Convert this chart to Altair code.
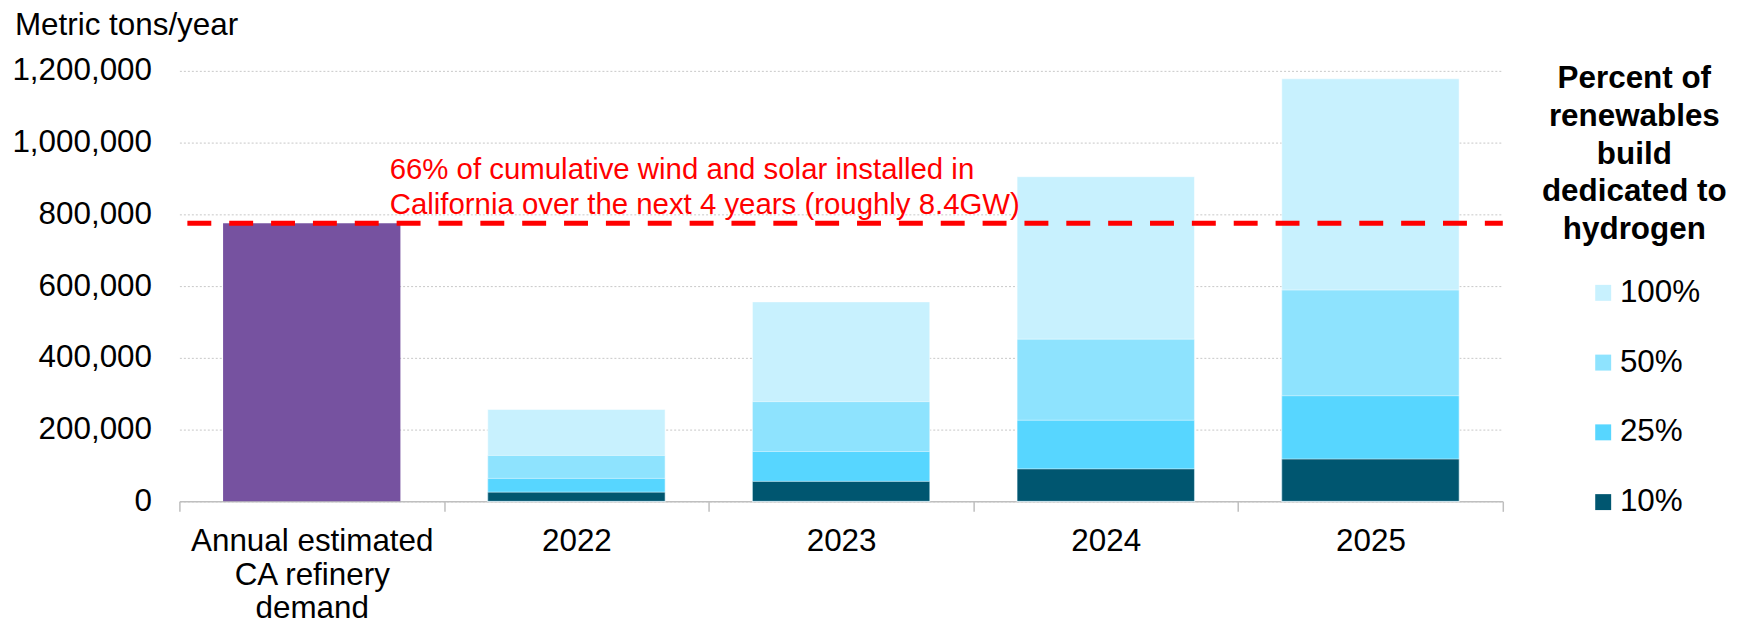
import altair as alt
import pandas as pd

# ---- data ----
years = ["2022", "2023", "2024", "2025"]
levels = ["100%", "50%", "25%", "10%"]
values_100 = [256000, 556000, 905000, 1178000]
values_50 = [128000, 278000, 452000, 589000]
values_25 = [64000, 139000, 226000, 294500]
values_10 = [25600, 55600, 90500, 117800]
level_colors = ["#C8F1FE", "#8EE3FE", "#57D6FF", "#005670"]

demand_label = "Annual estimated CA refinery demand"
demand_label_lines = ["Annual estimated", "CA refinery", "demand"]
demand_value = [775000]
target_value = [775000]

annotation_lines = ["66% of cumulative wind and solar installed in",
                    "California over the next 4 years (roughly 8.4GW)"]
legend_title_lines = ["Percent of", "renewables", "build", "dedicated to", "hydrogen"]
y_title = "Metric tons/year"
y_ticks = [0, 200000, 400000, 600000, 800000, 1000000, 1200000]

FONT = "Liberation Sans"
FS = 31.5
W, H = 1328, 432

# ---- tables ----
rows = []
series = {"100%": values_100, "50%": values_50, "25%": values_25, "10%": values_10}
for lvl in levels:  # biggest first so smaller bars are drawn on top
    for y, v in zip(years, series[lvl]):
        rows.append({"category": y, "level": lvl, "value": v})
bars_df = pd.DataFrame(rows)
demand_df = pd.DataFrame({"category": [demand_label], "value": demand_value})
rule_df = pd.DataFrame({"value": target_value})

x_domain = [demand_label] + years
label_expr = ("datum.value == '" + demand_label + "' ? ["
              + ", ".join("'" + s + "'" for s in demand_label_lines) + "] : datum.label")

x_enc = alt.X(
    "category:N",
    sort=x_domain,
    scale=alt.Scale(domain=x_domain, paddingInner=0, paddingOuter=0),
    axis=alt.Axis(
        title=None, labelAngle=0, labelFont=FONT, labelFontSize=FS, labelColor="black",
        labelLineHeight=34, labelBaseline="top", labelPadding=14, labelExpr=label_expr,
        tickBand="extent", tickSize=10, tickColor="#BFBFBF", tickWidth=1.5,
        domainColor="#BFBFBF", domainWidth=1.5, grid=False, labelLimit=400,
    ),
)
y_scale = alt.Scale(domain=[0, 1200000], nice=False)
y_enc = alt.Y(
    "value:Q", scale=y_scale, stack=None,
    axis=alt.Axis(
        title=None, values=y_ticks, format=",d", labelFont=FONT, labelFontSize=FS,
        labelColor="black", labelPadding=28, ticks=False, domain=False,
        grid=True, gridColor="#C8C8C8", gridDash=[2, 2], gridWidth=1,
    ),
)

BAR_W = alt.RelativeBandSize(0.67)

demand_bar = alt.Chart(demand_df).mark_bar(color="#7652A0", width=BAR_W).encode(x=x_enc, y=y_enc)

level_bars = alt.Chart(bars_df).mark_bar(
    width=BAR_W, stroke="white", strokeWidth=1, strokeOpacity=0.5
).encode(
    x=x_enc,
    y=y_enc,
    color=alt.Color(
        "level:N",
        scale=alt.Scale(domain=levels, range=level_colors),
        legend=alt.Legend(
            title=None, orient="none", legendX=1413, legendY=207, direction="vertical",
            symbolType="square", symbolSize=256, symbolStrokeWidth=0, symbolOpacity=1,
            labelFont=FONT, labelFontSize=FS, labelColor="black", labelOffset=1,
            rowPadding=37, padding=0,
        ),
    ),
)

target_rule = alt.Chart(rule_df).mark_rule(
    color="#FF0000", strokeWidth=5, strokeDash=[24, 18]
).encode(y=alt.Y("value:Q", scale=y_scale), x=alt.value(8), x2=alt.value(W))

one = pd.DataFrame({"k": [0]})

annotation = alt.Chart(one).mark_text(
    align="left", baseline="top", font=FONT, fontSize=29.5, color="#FF0000", lineHeight=35
).encode(x=alt.value(211), y=alt.value(86), text=alt.value(annotation_lines))

legend_title = alt.Chart(one).mark_text(
    align="center", baseline="top", font=FONT, fontSize=FS, fontWeight="bold",
    color="black", lineHeight=38
).encode(x=alt.value(1460), y=alt.value(-8), text=alt.value(legend_title_lines))

y_title_text = alt.Chart(one).mark_text(
    align="left", baseline="middle", font=FONT, fontSize=FS, color="black"
).encode(x=alt.value(-165), y=alt.value(-45), text=alt.value(y_title))

chart = alt.layer(
    level_bars, demand_bar, target_rule, annotation, legend_title, y_title_text
).properties(
    width=W, height=H,
    autosize=alt.AutoSizeParams(type="none"),
    padding={"left": 172, "top": 62, "right": 228, "bottom": 124},
).configure_view(stroke=None)

chart.save("out.html", embed_options={"renderer": "svg", "actions": False})
